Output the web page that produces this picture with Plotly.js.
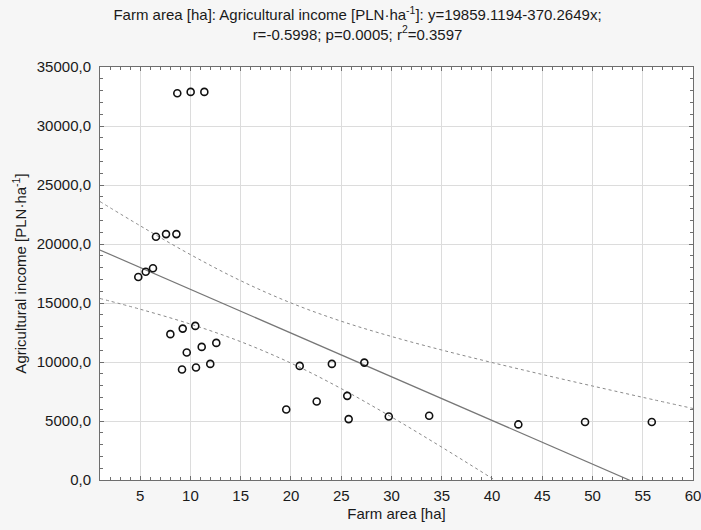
<!DOCTYPE html>
<html>
<head>
<meta charset="utf-8">
<script src="https://cdn.plot.ly/plotly-3.0.1.min.js"></script>
<style>html,body{margin:0;padding:0;background:#f6f6f6;}#chart{width:701px;height:530px;}</style>
</head>
<body>
<div id="chart"></div>
<script>
// Observed data points (farm area [ha], agricultural income [PLN/ha])
const farmArea = [8.69, 10.02, 11.38, 6.57, 7.57, 8.60, 4.81, 5.55, 6.27,
  8.0, 9.23, 10.48, 9.63, 11.12, 12.57, 9.16, 10.55, 11.97,
  19.53, 20.87, 24.07, 27.3, 22.56, 25.6, 25.74, 29.73, 33.75,
  42.62, 49.26, 55.9];
const income = [32770, 32890, 32890, 20610, 20840, 20840, 17200, 17650, 17940,
  12360, 12830, 13060, 10800, 11280, 11620, 9360, 9530, 9840,
  5970, 9670, 9840, 9950, 6650, 7130, 5160, 5380, 5440,
  4710, 4910, 4910];

// Fitted regression line y = 19859.1194 - 370.2649x (endpoints)
const fitX = [1, 60];
const fitY = [19488.9, -2356.8];

// 95% confidence band
const bandX = [1, 5, 10, 15, 20, 25, 30, 35, 40, 45, 50, 55, 60];
const bandUpper = [23596, 21543, 19101, 16888, 15004, 13458, 12162, 11016, 9956, 8945, 7966, 7007, 6062];
const bandLower = [15382, 14473, 13212, 11722, 9904, 7746, 5340, 2784, 142, -2551, -5274, -8018, -10776];

const xTitle = 'Farm area [ha]';
const yTitle = 'Agricultural income [PLN·ha<sup>-1</sup>]';
const chartTitle = 'Farm area [ha]: Agricultural income [PLN·ha<sup>-1</sup>]: y=19859.1194-370.2649x;<br>r=-0.5998; p=0.0005; r<sup>2</sup>=0.3597';

const font = {family: '"Liberation Sans", Arial, sans-serif', size: 15, color: '#1a1a1a'};

const traces = [
  {x: bandX, y: bandUpper, mode: 'lines', type: 'scatter', line: {color: '#8a8a8a', width: 1, dash: 'dot', shape: 'spline'}, hoverinfo: 'skip', showlegend: false},
  {x: bandX, y: bandLower, mode: 'lines', type: 'scatter', line: {color: '#8a8a8a', width: 1, dash: 'dot', shape: 'spline'}, hoverinfo: 'skip', showlegend: false},
  {x: fitX, y: fitY, mode: 'lines', type: 'scatter', line: {color: '#777777', width: 1.2}, showlegend: false},
  {x: farmArea, y: income, mode: 'markers', type: 'scatter', cliponaxis: false,
   marker: {symbol: 'circle-open', size: 7, color: '#111111', line: {width: 1.6, color: '#111111'}}, showlegend: false}
];

const axisCommon = {
  showline: true, linecolor: '#6e6e6e', linewidth: 1, mirror: 'ticks',
  ticks: 'inside', ticklen: 4, tickcolor: '#6e6e6e',
  gridcolor: '#dcdcdc', gridwidth: 1, zeroline: false,
  tickfont: font, ticklabeloverflow: 'allow'
};

const layout = {
  width: 701, height: 530,
  paper_bgcolor: '#f6f6f6', plot_bgcolor: '#ffffff',
  separators: ', ',
  font: font,
  margin: {l: 100, r: 8, t: 67, b: 50},
  title: {text: chartTitle, font: {family: font.family, size: 15, color: '#1a1a1a'},
    x: 0.51, xref: 'container', xanchor: 'center', y: 0.962, yref: 'container', yanchor: 'middle'},
  xaxis: Object.assign({}, axisCommon, {
    range: [1, 60], tick0: 0, dtick: 5, ticklabelstandoff: 2,
    minor: {dtick: 1, ticks: 'inside', ticklen: 3, tickcolor: '#6e6e6e', showgrid: false},
    title: {text: xTitle, font: font, standoff: 5}
  }),
  yaxis: Object.assign({}, axisCommon, {
    range: [0, 35000], tick0: 0, dtick: 5000, tickformat: '.1f', ticklabelstandoff: 5,
    minor: {dtick: 1000, ticks: 'inside', ticklen: 3, tickcolor: '#6e6e6e', showgrid: false},
    title: {text: yTitle, font: font, standoff: 6}
  })
};

Plotly.newPlot('chart', traces, layout, {displayModeBar: false, staticPlot: true});
</script>
</body>
</html>
